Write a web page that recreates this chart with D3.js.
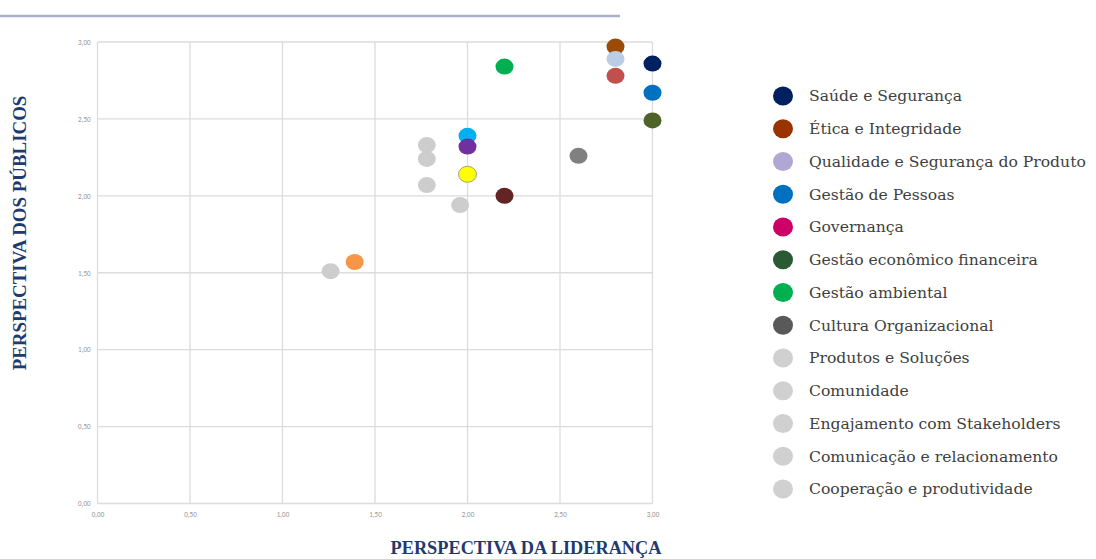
<!DOCTYPE html>
<html>
<head>
<meta charset="utf-8">
<script src="https://cdn.jsdelivr.net/npm/d3@7"></script>
<style>
  html, body { margin: 0; padding: 0; background: #ffffff; }
  svg { display: block; }
</style>
</head>
<body>
<svg id="chart" width="1096" height="559"></svg>
<script>
// ---- data ----
const pointX = [3.00, 2.80, 2.80, 2.80, 3.00, 3.00, 2.20, 2.60, 2.20, 2.00, 2.00, 2.00, 1.78, 1.78, 1.78, 1.96, 1.26, 1.39];
const pointY = [2.86, 2.97, 2.89, 2.78, 2.67, 2.49, 2.84, 2.26, 2.00, 2.39, 2.32, 2.14, 2.33, 2.24, 2.07, 1.94, 1.51, 1.57];
const pointColors = ["#002060", "#9c4a06", "#b9cde5", "#c0504d", "#0070c0", "#4f6228", "#00b050", "#808080", "#632523",
                     "#00b0f0", "#7030a0", "#ffff00", "#cdcdcd", "#cdcdcd", "#cdcdcd", "#cdcdcd", "#cdcdcd", "#f79646"];
const tickValues = [0, 0.5, 1, 1.5, 2, 2.5, 3];
const tickLabels = ["0,00", "0,50", "1,00", "1,50", "2,00", "2,50", "3,00"];
const legendLabels = ["Saúde e Segurança", "Ética e Integridade", "Qualidade e Segurança do Produto", "Gestão de Pessoas",
  "Governança", "Gestão econômico financeira", "Gestão ambiental", "Cultura Organizacional", "Produtos e Soluções",
  "Comunidade", "Engajamento com Stakeholders", "Comunicação e relacionamento", "Cooperação e produtividade"];
const legendColors = ["#002060", "#993300", "#b1a7d3", "#0070c0", "#cc0066", "#2a5a34", "#00b050", "#595959",
  "#d0d0d0", "#d0d0d0", "#d0d0d0", "#d0d0d0", "#d0d0d0"];
const xTitle = "PERSPECTIVA DA LIDERANÇA";
const yTitle = "PERSPECTIVA DOS PÚBLICOS";

// ---- layout ----
const svg = d3.select("#chart");
const plot = { left: 97.5, right: 652.5, top: 42, bottom: 503.5 };
const x = d3.scaleLinear().domain([0, 3]).range([plot.left, plot.right]);
const y = d3.scaleLinear().domain([0, 3]).range([plot.bottom, plot.top]);

// top decorative rule
svg.append("line").attr("x1", 0).attr("x2", 620).attr("y1", 16).attr("y2", 16)
  .attr("stroke", "#a7b3cb").attr("stroke-width", 2.5);

// grid
const grid = svg.append("g");
grid.selectAll("line.v").data(tickValues).join("line")
  .attr("x1", d => x(d)).attr("x2", d => x(d)).attr("y1", plot.top).attr("y2", plot.bottom)
  .attr("stroke", "#dcdcdc").attr("stroke-width", 1.3);
grid.selectAll("line.h").data(tickValues).join("line")
  .attr("y1", d => y(d)).attr("y2", d => y(d)).attr("x1", plot.left).attr("x2", plot.right)
  .attr("stroke", "#dcdcdc").attr("stroke-width", 1.3);

// axes (labels only)
const xAxis = d3.axisBottom(x).tickValues(tickValues).tickFormat((d, i) => tickLabels[i]).tickSize(0).tickPadding(9);
const yAxis = d3.axisLeft(y).tickValues(tickValues).tickFormat((d, i) => tickLabels[i]).tickSize(0).tickPadding(7);
const gx = svg.append("g").attr("transform", `translate(0,${plot.bottom})`).call(xAxis);
const gy = svg.append("g").attr("transform", `translate(${plot.left},0)`).call(yAxis);
[gx, gy].forEach(g => {
  g.select(".domain").remove();
  g.selectAll("text").attr("font-family", "Calibri, Carlito, 'Liberation Sans', sans-serif")
    .attr("font-size", 7).attr("fill", "#959595");
});

// points
svg.append("g").selectAll("ellipse").data(pointX.map((v, i) => i)).join("ellipse")
  .attr("cx", i => x(pointX[i])).attr("cy", i => y(pointY[i]))
  .attr("rx", 9).attr("ry", 8)
  .attr("fill", i => pointColors[i])
  .attr("stroke", i => pointColors[i] === "#ffff00" ? "#9aa86a" : "none")
  .attr("stroke-width", 1);

// axis titles
svg.append("text").attr("x", 526).attr("y", 554).attr("text-anchor", "middle")
  .attr("font-family", "'Liberation Serif', 'Times New Roman', serif").attr("font-weight", "bold")
  .attr("font-size", 18.3).attr("fill", "#1f3a6e").text(xTitle);
svg.append("text").attr("transform", "translate(26,233) rotate(-90)").attr("text-anchor", "middle")
  .attr("font-family", "'Liberation Serif', 'Times New Roman', serif").attr("font-weight", "bold")
  .attr("font-size", 18.9).attr("fill", "#1f3a6e").text(yTitle);

// legend
const legend = svg.append("g");
const rows = legend.selectAll("g").data(legendLabels).join("g")
  .attr("transform", (d, i) => `translate(783,${96 + i * 32.75})`);
rows.append("ellipse").attr("rx", 10).attr("ry", 9.5).attr("fill", (d, i) => legendColors[i]);
rows.append("text").attr("x", 26).attr("dy", "0.35em")
  .attr("font-family", "'DejaVu Serif', serif").attr("font-size", 15.6)
  .attr("fill", "#404040").text(d => d);
</script>
</body>
</html>
